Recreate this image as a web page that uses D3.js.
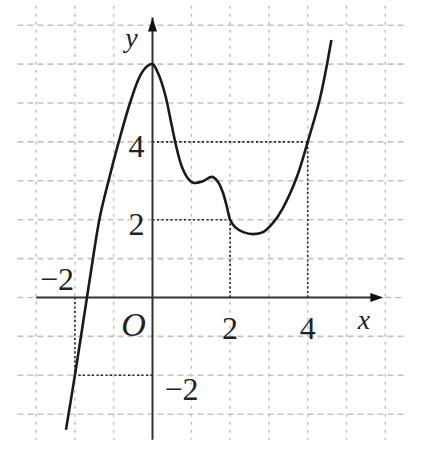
<!DOCTYPE html>
<html><head><meta charset="utf-8">
<script src="https://cdn.jsdelivr.net/npm/d3@7"></script>
<style>body{margin:0;background:#fff}svg{display:block}</style>
</head><body>
<svg id="c" width="426" height="455"></svg>
<script>
// curve points
const curveX = [-2.23,-2,-1.72,-1.52,-1.35,-1.12,-0.87,-0.58,-0.32,-0.13,0,0.15,0.33,0.5,0.62,0.75,0.9,1.05,1.3,1.53,1.69,1.82,1.92,2,2.13,2.34,2.6,2.85,3.1,3.35,3.71,4,4.3,4.46,4.61];
const curveY = [-3.4,-2,-0.2,1.1,2.1,3.05,4,5,5.7,5.95,6,5.75,5.2,4.4,3.85,3.38,3.08,2.95,2.99,3.1,2.97,2.68,2.32,2,1.81,1.68,1.63,1.68,1.91,2.28,3.07,4,5.05,5.8,6.62];
// guide points (dotted projections)
const guideX = [-2, 2, 4];
const guideY = [-2, 2, 4];
// grid
const gridXs = [-3,-2,-1,1,2,3,4,5,6];
const gridYs = [-3,-2,-1,1,2,3,4,5,6,7];
// tick labels
const xTickVals = [2, 4];
const xTickLabels = ["2", "4"];
const yTickVals = [4, 2];
const yTickLabels = ["4", "2"];

const svg = d3.select("#c");
const x = d3.scaleLinear().domain([0, 1]).range([152.5, 191.3]);
const y = d3.scaleLinear().domain([0, 1]).range([297.5, 258.6]);

const gridColor = "#c4c4c4";
svg.append("g").selectAll("line").data(gridYs).join("line")
  .attr("x1", x(-3.48)).attr("x2", x(6.47))
  .attr("y1", d => y(d)).attr("y2", d => y(d))
  .attr("stroke", gridColor).attr("stroke-width", 1.6).attr("stroke-dasharray", "6,4");
svg.append("g").selectAll("line").data(gridXs).join("line")
  .attr("y1", y(7.5)).attr("y2", y(-3.66))
  .attr("x1", d => x(d)).attr("x2", d => x(d))
  .attr("stroke", gridColor).attr("stroke-width", 1.6).attr("stroke-dasharray", "3,5");
svg.append("line").attr("x1", x(-3.48)).attr("x2", x(-3.05)).attr("y1", y(0)).attr("y2", y(0))
  .attr("stroke", gridColor).attr("stroke-width", 1.6).attr("stroke-dasharray", "6,4");
svg.append("line").attr("x1", x(6.0)).attr("x2", x(6.47)).attr("y1", y(0)).attr("y2", y(0))
  .attr("stroke", gridColor).attr("stroke-width", 1.6).attr("stroke-dasharray", "6,4");

// dotted guides
const guides = svg.append("g").attr("stroke", "#222").attr("stroke-width", 1.6).attr("stroke-dasharray", "2,2.5");
guideX.forEach((gx, i) => {
  const gy = guideY[i];
  guides.append("line").attr("x1", x(0)).attr("x2", x(gx)).attr("y1", y(gy)).attr("y2", y(gy));
  guides.append("line").attr("x1", x(gx)).attr("x2", x(gx)).attr("y1", y(0)).attr("y2", y(gy));
});

// axes
const axisColor = "#333";
svg.append("line").attr("x1", x(-3.0)).attr("x2", x(5.8)).attr("y1", y(0)).attr("y2", y(0))
  .attr("stroke", axisColor).attr("stroke-width", 2);
svg.append("line").attr("x1", x(0)).attr("x2", x(0)).attr("y1", y(-3.66)).attr("y2", y(7.2))
  .attr("stroke", axisColor).attr("stroke-width", 2);
const xt = x(5.95), yt = y(0);
svg.append("path").attr("d", `M${xt},${yt} L${xt-13},${yt-4.5} L${xt-13},${yt+4.5} Z`).attr("fill", "#111");
const ax = x(0), ay = y(7.2);
svg.append("path").attr("d", `M${ax},${ay} L${ax-4.5},${ay+14} L${ax+4.5},${ay+14} Z`).attr("fill", "#111");

// curve
const pts = curveX.map((v, i) => [v, curveY[i]]);
const line = d3.line().x(d => x(d[0])).y(d => y(d[1])).curve(d3.curveCatmullRom.alpha(0.5));
svg.append("path").datum(pts).attr("d", line)
  .attr("fill", "none").attr("stroke", "#1a1a1a").attr("stroke-width", 2.6).attr("stroke-linejoin", "round");

// labels
const font = "'Liberation Serif', 'DejaVu Serif', serif";
const T = (tx, ty, s, opts = {}) => svg.append("text").attr("x", tx).attr("y", ty).text(s)
  .attr("font-family", font).attr("font-size", opts.size || 32).attr("fill", "#222")
  .attr("text-anchor", opts.anchor || "middle").attr("font-style", opts.italic ? "italic" : "normal");

xTickVals.forEach((v, i) => T(x(v), y(0) + 41, xTickLabels[i]));
yTickVals.forEach((v, i) => T(x(0) - 16, y(v) + 15, yTickLabels[i]));
T(x(-2) - 18, y(0) - 8, "\u22122");
T(x(0) + 29, y(-2) + 25, "\u22122");
T(x(0) - 19, y(0) + 38, "O", {italic: true, size: 34});
T(x(5.45), y(0) + 31, "x", {italic: true, size: 28});
T(x(0) - 21, y(6.6) + 6, "y", {italic: true, size: 28});
</script>
</body></html>
